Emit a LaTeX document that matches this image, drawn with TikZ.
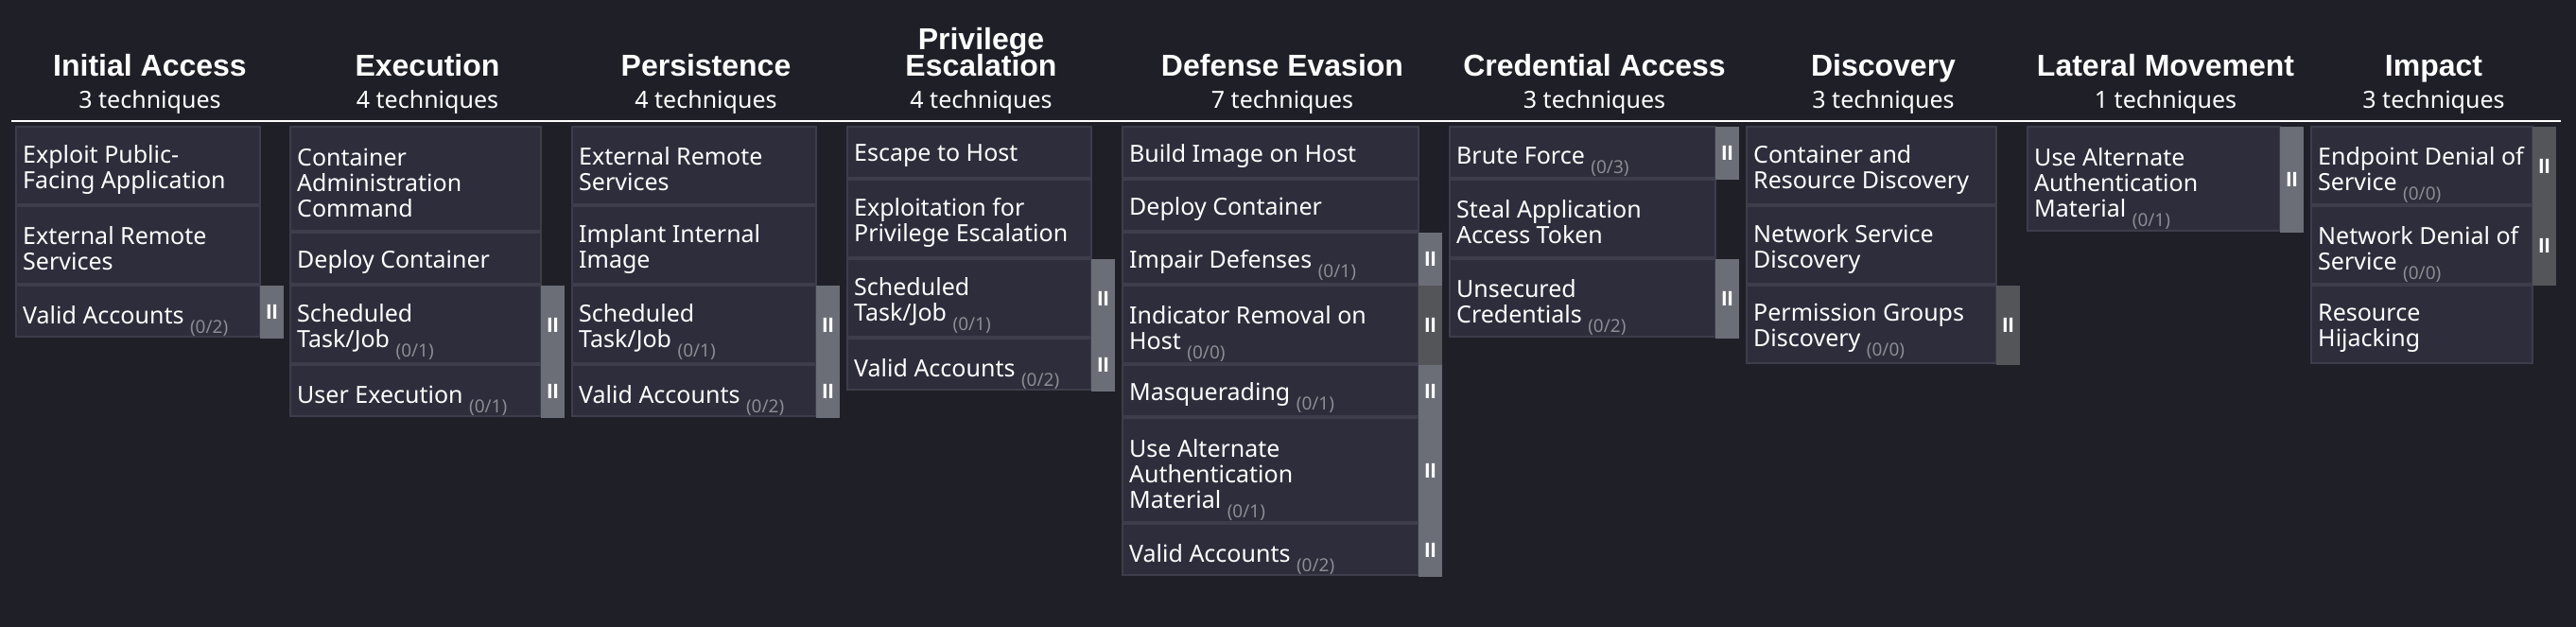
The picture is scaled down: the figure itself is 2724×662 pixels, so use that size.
\documentclass[tikz,border=0pt]{standalone}
\usepackage{fontspec}
\setmainfont{Noto Sans}
\newfontfamily\headfont{Liberation Sans}

\definecolor{pagebg}{HTML}{1F1F28}
\definecolor{boxfill}{HTML}{2D2D3C}
\definecolor{boxline}{HTML}{3D3D4B}
\definecolor{barlight}{HTML}{6B6E76}
\definecolor{bardark}{HTML}{545559}
\definecolor{countgray}{HTML}{8C8C92}

\NewDocumentCommand{\techcount}{m}{\smash{\raisebox{-10pt}{\fontsize{19}{19}\selectfont\color{countgray}(#1)}}}

\begin{document}
\begin{tikzpicture}[
    x=1pt, y=-1pt,
    tactic/.style={
        font={\headfont\bfseries\fontsize{32}{28}\selectfont\lineskiplimit=-100pt},
        text=white, align=center, inner sep=0pt, anchor=base
    },
    tcount/.style={
        font={\fontsize{25}{27}\selectfont},
        text=white, inner sep=0pt, anchor=base
    },
    techbox/.style={
        draw=boxline, line width=1.5pt, fill=boxfill,
        anchor=north west, inner sep=0pt, outer sep=0pt
    },
    techlabel/.style={
        font={\fontsize{25}{27}\selectfont\lineskiplimit=-100pt},
        text=white, align=left, inner sep=0pt, anchor=west, yshift=-4pt
    },
    subbar/.style={
        font={\headfont\bfseries\fontsize{22}{22}\selectfont},
        text=white, minimum width=25pt,
        anchor=north west, inner sep=0pt, outer sep=0pt
    }
]
\useasboundingbox (0,0) rectangle (2724,662);
\fill[pagebg] (-10,-10) rectangle (2734,672);

% Tactic headers, one per column.
\foreach \cx/\title/\num [count=\i] in {
    158.5/Initial Access/3,
    452/Execution/4,
    746.5/Persistence/4,
    1037.5/{Privilege\\Escalation}/4,
    1356/Defense Evasion/7,
    1686/Credential Access/3,
    1991.5/Discovery/3,
    2290/Lateral Movement/1,
    2573.5/Impact/3%
}{
    \node[tactic] (tactic\i) at (\cx,80) {\title};
    \node[tcount] (count\i) at (\cx,114) {\num\ techniques};
}

\coordinate (ruleL) at (12,128);
\coordinate (ruleR) at (2708,128);
\draw[white, line width=2pt] (ruleL) -- (ruleR);

% Technique cells, column by column: x/y/width/height
\foreach \tx/\ty/\tw/\cellh [count=\i] in {
    17/134/258/82, 17/218/258/82, 17/302/258/54,
    307/134/265/110, 307/246/265/54, 307/302/265/82, 307/386/265/54,
    605/134/258/82, 605/218/258/82, 605/302/258/82, 605/386/258/54,
    896/134/258/54, 896/190/258/82, 896/274/258/82, 896/358/258/54,
    1187/134/313/54, 1187/190/313/54, 1187/246/313/54, 1187/302/313/82,
    1187/386/313/54, 1187/442/313/110, 1187/554/313/54,
    1533/134/281/54, 1533/190/281/82, 1533/274/281/82,
    1847/134/264/82, 1847/218/264/82, 1847/302/264/82,
    2144/134/267/110,
    2444/134/234/82, 2444/218/234/82, 2444/302/234/82%
}{
    \node[techbox, minimum width=\tw pt, minimum height=\cellh pt]
        (tech\i) at (\tx,\ty) {};
}

\node[techlabel] (label1) at ([xshift=7pt]tech1.west) {Exploit Public-\\Facing Application};
\node[techlabel] (label2) at ([xshift=7pt]tech2.west) {External Remote\\Services};
\node[techlabel] (label3) at ([xshift=7pt]tech3.west) {Valid Accounts \techcount{0/2}};
\node[techlabel] (label4) at ([xshift=7pt]tech4.west) {Container\\Administration\\Command};
\node[techlabel] (label5) at ([xshift=7pt]tech5.west) {Deploy Container};
\node[techlabel] (label6) at ([xshift=7pt]tech6.west) {Scheduled\\Task/Job \techcount{0/1}};
\node[techlabel] (label7) at ([xshift=7pt]tech7.west) {User Execution \techcount{0/1}};
\node[techlabel] (label8) at ([xshift=7pt]tech8.west) {External Remote\\Services};
\node[techlabel] (label9) at ([xshift=7pt]tech9.west) {Implant Internal\\Image};
\node[techlabel] (label10) at ([xshift=7pt]tech10.west) {Scheduled\\Task/Job \techcount{0/1}};
\node[techlabel] (label11) at ([xshift=7pt]tech11.west) {Valid Accounts \techcount{0/2}};
\node[techlabel] (label12) at ([xshift=7pt]tech12.west) {Escape to Host};
\node[techlabel] (label13) at ([xshift=7pt]tech13.west) {Exploitation for\\Privilege Escalation};
\node[techlabel] (label14) at ([xshift=7pt]tech14.west) {Scheduled\\Task/Job \techcount{0/1}};
\node[techlabel] (label15) at ([xshift=7pt]tech15.west) {Valid Accounts \techcount{0/2}};
\node[techlabel] (label16) at ([xshift=7pt]tech16.west) {Build Image on Host};
\node[techlabel] (label17) at ([xshift=7pt]tech17.west) {Deploy Container};
\node[techlabel] (label18) at ([xshift=7pt]tech18.west) {Impair Defenses \techcount{0/1}};
\node[techlabel] (label19) at ([xshift=7pt]tech19.west) {Indicator Removal on\\Host \techcount{0/0}};
\node[techlabel] (label20) at ([xshift=7pt]tech20.west) {Masquerading \techcount{0/1}};
\node[techlabel] (label21) at ([xshift=7pt]tech21.west) {Use Alternate\\Authentication\\Material \techcount{0/1}};
\node[techlabel] (label22) at ([xshift=7pt]tech22.west) {Valid Accounts \techcount{0/2}};
\node[techlabel] (label23) at ([xshift=7pt]tech23.west) {Brute Force \techcount{0/3}};
\node[techlabel] (label24) at ([xshift=7pt]tech24.west) {Steal Application\\Access Token};
\node[techlabel] (label25) at ([xshift=7pt]tech25.west) {Unsecured\\Credentials \techcount{0/2}};
\node[techlabel] (label26) at ([xshift=7pt]tech26.west) {Container and\\Resource Discovery};
\node[techlabel] (label27) at ([xshift=7pt]tech27.west) {Network Service\\Discovery};
\node[techlabel] (label28) at ([xshift=7pt]tech28.west) {Permission Groups\\Discovery \techcount{0/0}};
\node[techlabel] (label29) at ([xshift=7pt]tech29.west) {Use Alternate\\Authentication\\Material \techcount{0/1}};
\node[techlabel] (label30) at ([xshift=7pt]tech30.west) {Endpoint Denial of\\Service \techcount{0/0}};
\node[techlabel] (label31) at ([xshift=7pt]tech31.west) {Network Denial of\\Service \techcount{0/0}};
\node[techlabel] (label32) at ([xshift=7pt]tech32.west) {Resource\\Hijacking};

% Sub-technique handles beside the cells that have them.
\foreach \k/\barh/\shade in {
    3/56/barlight, 6/84/barlight, 7/56/barlight,
    10/84/barlight, 11/56/barlight, 14/84/barlight, 15/56/barlight,
    18/56/barlight, 19/84/bardark, 20/56/barlight, 21/112/barlight,
    22/56/barlight, 23/56/barlight, 25/84/barlight, 28/84/bardark,
    29/112/barlight, 30/84/bardark, 31/84/bardark%
}{
    \node[subbar, fill=\shade, minimum height=\barh pt]
        (bar\k) at (tech\k.north east) {II};
}
\end{tikzpicture}
\end{document}
